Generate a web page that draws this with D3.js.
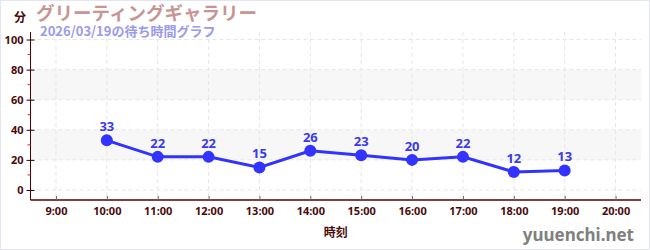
<!DOCTYPE html>
<html>
<head>
<meta charset="utf-8">
<script src="https://cdn.jsdelivr.net/npm/d3@7"></script>
<style>
  body { margin: 0; background: #fff; }
  svg { display: block; font-family: "Noto Sans CJK JP", "Noto Sans", sans-serif; }
</style>
</head>
<body>
<script>
var hours = [10, 11, 12, 13, 14, 15, 16, 17, 18, 19];
var waits = [33, 22, 22, 15, 26, 23, 20, 22, 12, 13];
var xTicks = [9, 10, 11, 12, 13, 14, 15, 16, 17, 18, 19, 20];
var yTicks = [0, 20, 40, 60, 80, 100];
var yMinor = [10, 30, 50, 70, 90];
var bands = [[20, 40], [60, 80]];

var w = 650, h = 250;
var plotLeft = 30.5, plotRight = 641, plotTop = 32, plotBottom = 200;

var x = d3.scaleLinear().domain([8.5, 20.5]).range([plotLeft, plotRight]);
var y = d3.scaleLinear().domain([-6.67, 105]).range([plotBottom, plotTop]);

var svg = d3.select("body").append("svg")
    .attr("width", w)
    .attr("height", h);

svg.append("rect")
    .attr("x", 0.5).attr("y", 0.5)
    .attr("width", w - 1).attr("height", h - 1)
    .attr("fill", "none")
    .attr("stroke", "#e4e4f4");

// gray bands
svg.selectAll(".band")
    .data(bands)
    .enter()
    .append("rect")
    .attr("class", "band")
    .attr("x", plotLeft)
    .attr("width", plotRight - plotLeft)
    .attr("y", function(d){ return y(d[1]); })
    .attr("height", function(d){ return y(d[0]) - y(d[1]); })
    .attr("fill", "#f7f7f7");

// grid
svg.selectAll(".hgrid")
    .data(yTicks)
    .enter()
    .append("line")
    .attr("x1", plotLeft).attr("x2", plotRight)
    .attr("y1", function(d){ return y(d); })
    .attr("y2", function(d){ return y(d); })
    .attr("stroke", "#e6e6e6")
    .attr("stroke-dasharray", "4,3");

svg.selectAll(".vgrid")
    .data(xTicks)
    .enter()
    .append("line")
    .attr("x1", function(d){ return x(d); })
    .attr("x2", function(d){ return x(d); })
    .attr("y1", plotTop).attr("y2", plotBottom)
    .attr("stroke", "#e6e6e6")
    .attr("stroke-dasharray", "4,3");

// y axis
var yAxis = d3.axisLeft(y).tickValues(yTicks).tickSize(4).tickPadding(3);
var gy = svg.append("g")
    .attr("transform", "translate(" + plotLeft + ",0)")
    .call(yAxis);
gy.select(".domain").attr("stroke", "#550000").attr("d", "M0," + plotTop + "V" + plotBottom);
gy.selectAll(".tick line").attr("stroke", "#330000").attr("x1", 4).attr("x2", -4);
gy.selectAll(".tick text")
    .attr("fill", "#4a0a0a")
    .style("font-size", "11px")
    .style("font-weight", "bold")
    .style("font-family", "'Noto Sans', sans-serif");

svg.selectAll(".minor")
    .data(yMinor)
    .enter()
    .append("line")
    .attr("x1", plotLeft - 3).attr("x2", plotLeft)
    .attr("y1", function(d){ return y(d); })
    .attr("y2", function(d){ return y(d); })
    .attr("stroke", "#dd2222");

// x axis
var xAxis = d3.axisBottom(x).tickValues(xTicks).tickSize(4).tickPadding(3)
    .tickFormat(function(d){ return d + ":00"; });
var gx = svg.append("g")
    .attr("transform", "translate(0," + plotBottom + ")")
    .call(xAxis);
gx.select(".domain").attr("stroke", "#550000").attr("stroke-width", 1.5).attr("d", "M" + plotLeft + ",0H" + plotRight);
gx.selectAll(".tick line").attr("stroke", "#666").attr("y1", -4).attr("y2", 0);
gx.selectAll(".tick text")
    .attr("fill", "#4a0a0a")
    .style("font-size", "11px")
    .style("font-weight", "bold")
    .style("font-family", "'Noto Sans', sans-serif");

// line and dots
var line = d3.line()
    .x(function(d, i){ return x(hours[i]); })
    .y(function(d){ return y(d); });

svg.append("path")
    .datum(waits)
    .attr("d", line)
    .attr("fill", "none")
    .attr("stroke", "#3333ff")
    .attr("stroke-width", 3);

svg.selectAll(".dot")
    .data(waits)
    .enter()
    .append("circle")
    .attr("cx", function(d, i){ return x(hours[i]); })
    .attr("cy", function(d){ return y(d); })
    .attr("r", 6)
    .attr("fill", "#3333ff");

svg.selectAll(".val-label")
    .data(waits)
    .enter()
    .append("text")
    .attr("x", function(d, i){ return x(hours[i]); })
    .attr("y", function(d){ return y(d) - 9; })
    .attr("text-anchor", "middle")
    .attr("fill", "#3a3aee")
    .style("font-size", "13px")
    .style("font-weight", "bold")
    .style("font-family", "'Noto Sans', sans-serif")
    .text(function(d){ return d; });

// titles
svg.append("text")
    .attr("x", 14).attr("y", 22)
    .attr("fill", "#4a0a0a")
    .style("font-size", "12px")
    .style("font-weight", "bold")
    .text("分");

svg.append("text")
    .attr("x", 36).attr("y", 20)
    .attr("fill", "#c89494")
    .style("font-size", "18.5px")
    .style("font-weight", "bold")
    .text("グリーティングギャラリー");

svg.append("text")
    .attr("x", 40).attr("y", 35.5)
    .attr("fill", "#9a9af0")
    .style("font-size", "13px")
    .style("font-weight", "bold")
    .text("2026/03/19の待ち時間グラフ");

svg.append("text")
    .attr("x", x(14.5)).attr("y", 237)
    .attr("text-anchor", "middle")
    .attr("fill", "#4a0a0a")
    .style("font-size", "12px")
    .style("font-weight", "bold")
    .text("時刻");

svg.append("text")
    .attr("x", 634).attr("y", 241)
    .attr("text-anchor", "end")
    .attr("fill", "#808080")
    .style("font-size", "17px")
    .style("font-weight", "bold")
    .style("font-family", "'Noto Sans', sans-serif")
    .text("yuuenchi.net");
</script>
</body>
</html>
